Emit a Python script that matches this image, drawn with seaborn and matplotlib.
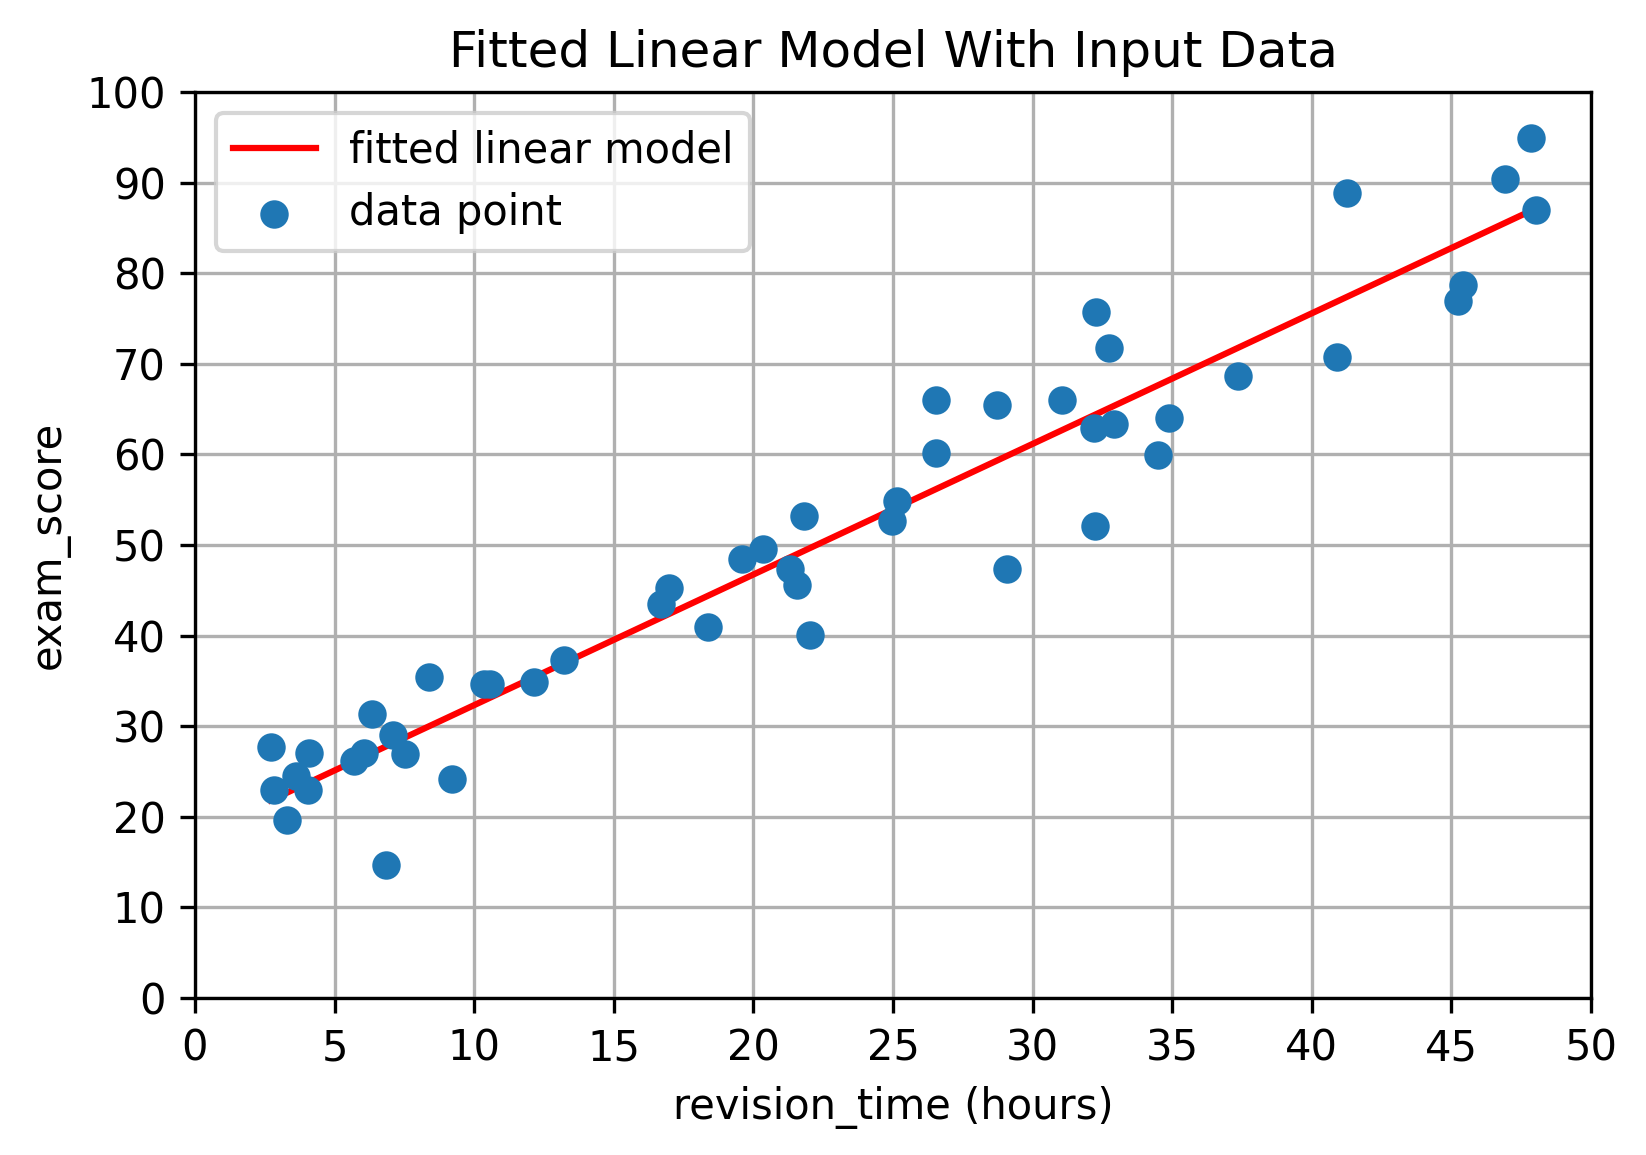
import numpy as np
import pandas as pd
import matplotlib
matplotlib.use("Agg")
import matplotlib.pyplot as plt
import seaborn as sns

revision_time = [2.71, 2.84, 3.28, 3.60, 4.08, 4.04, 5.70, 6.05, 6.35, 6.85,
                 7.08, 7.53, 8.38, 9.22, 10.36, 10.56, 12.13, 13.20, 16.70, 16.99,
                 18.37, 19.59, 20.33, 21.30, 21.57, 21.80, 22.03, 24.95, 25.14, 26.54,
                 26.55, 28.72, 29.07, 31.06, 32.20, 32.28, 32.24, 32.72, 32.92, 34.50,
                 34.90, 37.35, 40.89, 41.26, 45.22, 45.41, 46.92, 47.85, 48.04]
exam_score = [27.7, 23.0, 19.7, 24.5, 27.0, 23.0, 26.2, 27.0, 31.3, 14.7,
              29.0, 26.9, 35.4, 24.2, 34.7, 34.7, 34.9, 37.3, 43.5, 45.2,
              41.0, 48.4, 49.6, 47.3, 45.6, 53.2, 40.1, 52.7, 54.9, 66.0,
              60.1, 65.5, 47.3, 66.0, 62.9, 75.7, 52.1, 71.7, 63.4, 59.9,
              64.0, 68.7, 70.8, 88.9, 76.9, 78.7, 90.4, 94.9, 87.0]

x_ticks = list(range(0, 51, 5))
y_ticks = list(range(0, 101, 10))

df = pd.DataFrame({"revision_time": revision_time, "exam_score": exam_score})

plt.rcParams["font.family"] = ["DejaVu Sans"]
fig = plt.figure(figsize=(1646 / 300, 1155 / 300), dpi=300)
ax = fig.add_axes([195 / 1646, 1 - 998 / 1155, (1591 - 195) / 1646, (998 - 92) / 1155])

sns.regplot(data=df, x="revision_time", y="exam_score", scatter=False, ci=None,
            color="red", line_kws={"linewidth": 1.5}, label="fitted linear model", ax=ax)
sns.scatterplot(data=df, x="revision_time", y="exam_score", color="#1f77b4",
                s=40, linewidth=0.5, edgecolor="#1f77b4", label="data point", ax=ax, zorder=3)

ax.set_xlim(0, 50)
ax.set_ylim(0, 100)
ax.set_xticks(x_ticks)
ax.set_yticks(y_ticks)
ax.grid(True, color="#b0b0b0", linewidth=0.8)
ax.set_axisbelow(True)
ax.tick_params(labelsize=10, direction="out", length=3.5, width=0.8)
for sp in ax.spines.values():
    sp.set_linewidth(0.8)
    sp.set_color("black")
ax.set_xlabel("revision_time (hours)", fontsize=10)
ax.set_ylabel("exam_score", fontsize=10)
ax.set_title("Fitted Linear Model With Input Data", fontsize=12)
ax.legend(loc="upper left", fontsize=10)

fig.savefig("out.png", dpi=300)
